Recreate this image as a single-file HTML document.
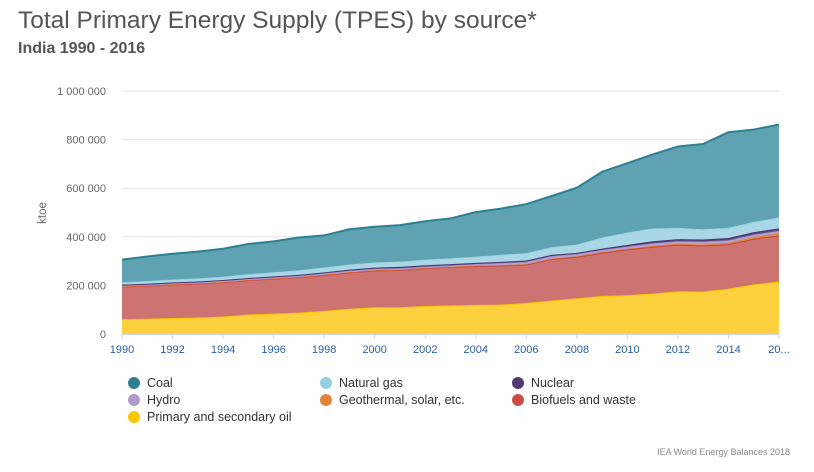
<!DOCTYPE html>
<html><head><meta charset="utf-8"><style>
body{margin:0;background:#fff;font-family:"Liberation Sans",sans-serif;}
#wrap{position:relative;width:814px;height:472px;overflow:hidden}
.t{position:absolute;color:#555}
</style></head><body>
<div id="wrap">
<div class="t" style="left:18px;top:7px;font-size:24.5px;color:#555">Total Primary Energy Supply (TPES) by source*</div>
<div class="t" style="left:18px;top:40px;font-size:16px;font-weight:bold;color:#555">India 1990 - 2016</div>
<svg id="svg" width="814" height="472" style="position:absolute;left:0;top:0"></svg>
<div class="t" style="right:24px;top:447px;font-size:9px;color:#888">IEA World Energy Balances 2018</div>
</div>
<script>
const years=[1990,1991,1992,1993,1994,1995,1996,1997,1998,1999,2000,2001,2002,2003,2004,2005,2006,2007,2008,2009,2010,2011,2012,2013,2014,2015,2016];
const oil=[61,63,66,68,72,80,84,88,95,104,110,110,115,118,120,121,128,138,147,157,160,166,176,175,186,204,216];
const biofuels=[134,136,138,140,141,142,144,146,148,150,152,154,156,158,160,161,158,170,171,178,188,193,192,189,184,188,190];
const geothermal=[0.5,0.5,0.5,0.5,0.5,0.6,0.6,0.7,0.7,0.8,0.9,1,1,1,1.2,1.5,1.8,2,2.2,2.5,3,3.5,4,4.5,5,6.5,8];
const hydro=[6,6,6,6,7,6,6,6,7,7,6,6,6,6,7,9,10,11,10,9,9,11,10,12,11,11,11];
const nuclear=[1.6,1.4,1.8,1.4,1.5,2,2.4,2.6,3,3.3,4.4,5,5,4.6,4.4,4.5,4.9,4.4,3.8,4.8,6.8,8.4,8.6,8.6,9.2,9.7,9.9];
const gas=[10,11,12,13,14,16,17,19,20,21,21,22,23,24,26,29,30,32,34,46,51,53,46,42,42,42,45];
const coal=[93,101,106,110,115,124,127,135,132,145,147,150,158,164,183,190,202,210,234,270,285,304,335,351,393,380,382];
const yTicks=[0,200000,400000,600000,800000,1000000];
const yTickLabels=["0","200 000","400 000","600 000","800 000","1 000 000"];
const xTicks=[1990,1992,1994,1996,1998,2000,2002,2004,2006,2008,2010,2012,2014,2016];
const xTickLabels=["1990","1992","1994","1996","1998","2000","2002","2004","2006","2008","2010","2012","2014","20..."];
const NS="http://www.w3.org/2000/svg",svg=document.getElementById('svg');
const X=y=>122+(y-1990)*(779-122)/26, Y=v=>334-v*243/1000000;
function mk(t,a,p){const e=document.createElementNS(NS,t);for(const k in a)e.setAttribute(k,a[k]);(p||svg).appendChild(e);return e;}
yTicks.forEach((v,i)=>{
 if(v>0){const l=mk('line',{x1:122,x2:779,y1:Y(v),y2:Y(v),stroke:'#e3e3e3'});}
 const t=mk('text',{x:106,y:Y(v)+4,'text-anchor':'end','font-size':11,fill:'#666'});t.textContent=yTickLabels[i];
 
});
const yt=mk('text',{x:46,y:213,'font-size':11.5,fill:'#666','text-anchor':'middle',transform:'rotate(-90 46 213)'});yt.textContent='ktoe';

const series=[["oil",oil,"#fdd03e","#f9c300",2],["biofuels",biofuels,"#cd7371","#c5473f",2],["geothermal",geothermal,"#e48a3f","#e07a2a",1],["hydro",hydro,"#b7a2cf","#9d86c0",1.5],["nuclear",nuclear,"#5b4680","#4a3470",2],["gas",gas,"#a9d7e5","#98d0e0",1.5],["coal",coal,"#5fa2b2","#2e7f92",2]];
let base=years.map(()=>0);
series.forEach(([n,arr,f,s,w])=>{
 const top=base.map((b,i)=>b+arr[i]*1000);
 let d='M'+years.map((y,i)=>X(y)+','+Y(top[i])).join('L');
 for(let i=years.length-1;i>=0;i--)d+='L'+X(years[i])+','+Y(base[i]);
 const a=mk('path',{d:d+'Z',fill:f,stroke:'none'});
 const l=mk('polyline',{points:years.map((y,i)=>X(y)+','+Y(top[i])).join(' '),fill:'none',stroke:s,'stroke-width':w});
 
 base=top;
});
mk('line',{x1:122,x2:779,y1:334.5,y2:334.5,stroke:'#ccd6eb'});
xTicks.forEach((v,i)=>{
 mk('line',{x1:X(v),x2:X(v),y1:334,y2:339,stroke:'#ccd6eb'});
 const t=mk('text',{x:X(v),y:353,'text-anchor':'middle','font-size':11,fill:'#2a5ea0'});t.textContent=xTickLabels[i];
 
});
const legend=[["Coal","#2f7f92",0,0],["Natural gas","#95cfe1",1,0],["Nuclear","#4f3a76",2,0],["Hydro","#b09bcb",0,1],["Geothermal, solar, etc.","#e4823a",1,1],["Biofuels and waste","#c84d47",2,1],["Primary and secondary oil","#fcc800",0,2]];
legend.forEach(([n,c,col,row])=>{
 const g=mk('g',{});
 const x=134+col*192,y=383+row*17;
 mk('circle',{cx:x,cy:y,r:6,fill:c},g);
 const t=mk('text',{x:x+13,y:y+4,'font-size':12.5,fill:'#333'},g);t.textContent=n;
});
</script>
</body></html>
